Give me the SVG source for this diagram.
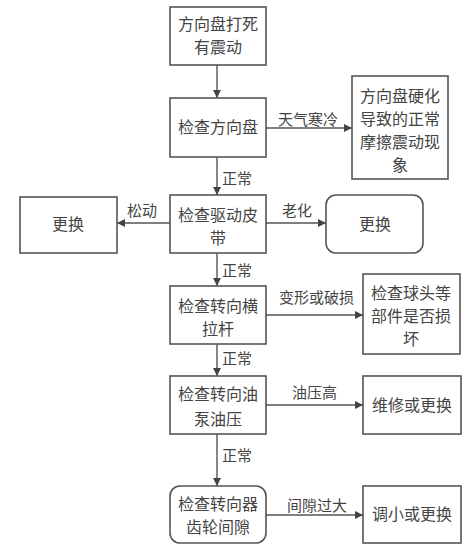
<svg xmlns="http://www.w3.org/2000/svg" width="474" height="548" viewBox="0 0 474 548">
<style>
.box{fill:#fff;stroke:#555;stroke-width:1.6}
.t{font-family:"Noto Sans CJK SC","Noto Sans",sans-serif;font-size:16px;fill:#444;text-anchor:middle}
.lbl{font-family:"Noto Sans CJK SC","Noto Sans",sans-serif;font-size:15px;fill:#444}
.c{fill:none;stroke:#555;stroke-width:1.4}
</style>
<defs>
<marker id="ah" viewBox="0 0 10 10" refX="10" refY="5" markerWidth="8" markerHeight="8" markerUnits="userSpaceOnUse" orient="auto">
<path d="M0,0 L10,5 L0,10 z" fill="#444"/>
</marker>
</defs>
<rect width="474" height="548" fill="#fff"/>
<g id="connectors">
<line class="c" x1="217" y1="65" x2="217" y2="98" marker-end="url(#ah)"/>
<line class="c" x1="266" y1="128" x2="352" y2="128" marker-end="url(#ah)"/>
<line class="c" x1="217" y1="157" x2="217" y2="195" marker-end="url(#ah)"/>
<line class="c" x1="170" y1="223" x2="117" y2="223" marker-end="url(#ah)"/>
<line class="c" x1="266" y1="223" x2="326" y2="223" marker-end="url(#ah)"/>
<line class="c" x1="217" y1="253" x2="217" y2="286" marker-end="url(#ah)"/>
<line class="c" x1="266" y1="315" x2="363" y2="315" marker-end="url(#ah)"/>
<line class="c" x1="217" y1="344" x2="217" y2="376" marker-end="url(#ah)"/>
<line class="c" x1="266" y1="405" x2="363" y2="405" marker-end="url(#ah)"/>
<line class="c" x1="217" y1="434" x2="217" y2="486" marker-end="url(#ah)"/>
<line class="c" x1="266" y1="515" x2="363" y2="515" marker-end="url(#ah)"/>
<text class="lbl" x="278" y="125">天气寒冷</text>
<text class="lbl" x="222" y="184">正常</text>
<text class="lbl" x="127" y="216">松动</text>
<text class="lbl" x="282" y="216">老化</text>
<text class="lbl" x="222" y="276">正常</text>
<text class="lbl" x="279" y="303">变形或破损</text>
<text class="lbl" x="222" y="364">正常</text>
<text class="lbl" x="292" y="398">油压高</text>
<text class="lbl" x="222" y="461">正常</text>
<text class="lbl" x="287" y="511">间隙过大</text>
</g>
<g id="n1">
<rect class="box" x="170" y="7" width="96" height="58"/>
<text class="t" x="218" y="30">方向盘打死</text>
<text class="t" x="218" y="53">有震动</text>
</g>
<g id="n2">
<rect class="box" x="170" y="98" width="96" height="59"/>
<text class="t" x="218" y="133">检查方向盘</text>
</g>
<g id="n3">
<rect class="box" x="352" y="76" width="96" height="103"/>
<text class="t" x="400" y="102">方向盘硬化</text>
<text class="t" x="400" y="125">导致的正常</text>
<text class="t" x="400" y="148">摩擦震动现</text>
<text class="t" x="400" y="171">象</text>
</g>
<g id="n4">
<rect class="box" x="170" y="195" width="96" height="58"/>
<text class="t" x="218" y="221">检查驱动皮</text>
<text class="t" x="218" y="244">带</text>
</g>
<g id="n5">
<rect class="box" x="20" y="197" width="97" height="56"/>
<text class="t" x="68" y="230">更换</text>
</g>
<g id="n6">
<rect class="box" x="326" y="195" width="97" height="58" rx="10" ry="10"/>
<text class="t" x="375" y="230">更换</text>
</g>
<g id="n7">
<rect class="box" x="170" y="286" width="96" height="58"/>
<text class="t" x="218" y="312">检查转向横</text>
<text class="t" x="218" y="335">拉杆</text>
</g>
<g id="n8">
<rect class="box" x="363" y="274" width="97" height="80"/>
<text class="t" x="411" y="299">检查球头等</text>
<text class="t" x="411" y="322">部件是否损</text>
<text class="t" x="411" y="345">坏</text>
</g>
<g id="n9">
<rect class="box" x="170" y="376" width="96" height="58"/>
<text class="t" x="218" y="400">检查转向油</text>
<text class="t" x="218" y="425">泵油压</text>
</g>
<g id="n10">
<rect class="box" x="363" y="376" width="98" height="58"/>
<text class="t" x="412" y="411">维修或更换</text>
</g>
<g id="n11">
<rect class="box" x="170" y="486" width="96" height="57" rx="10" ry="10"/>
<text class="t" x="218" y="510">检查转向器</text>
<text class="t" x="218" y="533">齿轮间隙</text>
</g>
<g id="n12">
<rect class="box" x="363" y="486" width="98" height="57"/>
<text class="t" x="412" y="520">调小或更换</text>
</g>
</svg>
